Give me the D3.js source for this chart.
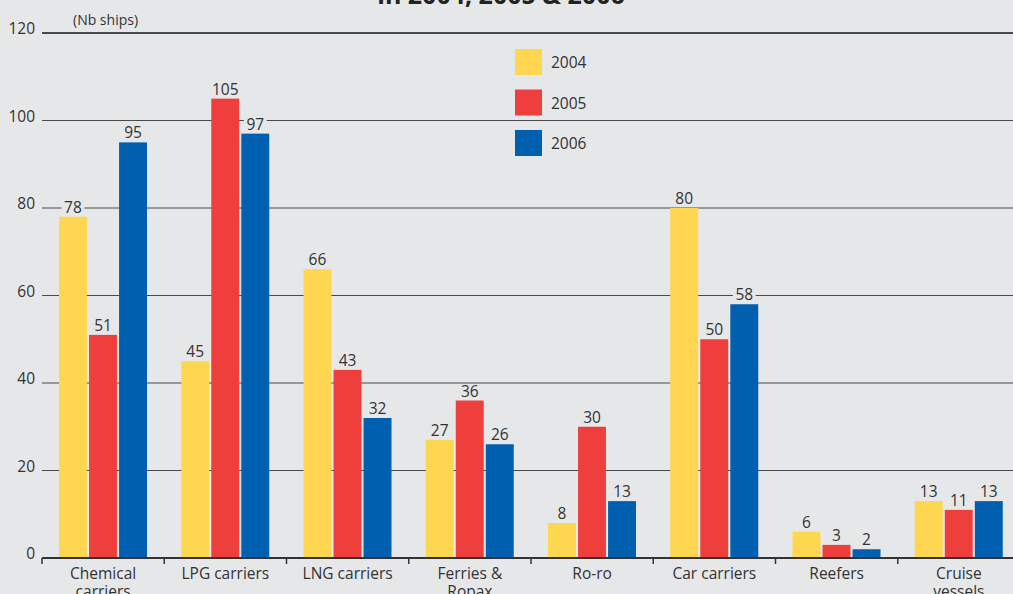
<!DOCTYPE html>
<html>
<head>
<meta charset="utf-8">
<script src="https://cdn.jsdelivr.net/npm/d3@7"></script>
<style>
  html, body { margin: 0; padding: 0; background: #e6e7e9; }
  svg { display: block; font-family: "Open Sans", "Noto Sans", sans-serif; }
</style>
</head>
<body>
<div id="svganchor"></div>
<script>
let width = 1013;
let height = 594;
let margin = ({top: 33, right: -7, bottom: 36, left: 42});

// Chart data
let categories = [["Chemical", "carriers"], ["LPG carriers"], ["LNG carriers"], ["Ferries &", "Ropax"],
                  ["Ro-ro"], ["Car carriers"], ["Reefers"], ["Cruise", "vessels"]];
let years = ["2004", "2005", "2006"];
let values2004 = [78, 45, 66, 27, 8, 80, 6, 13];
let values2005 = [51, 105, 43, 36, 30, 50, 3, 11];
let values2006 = [95, 97, 32, 26, 13, 58, 2, 13];
let yTicks = [0, 20, 40, 60, 80, 100, 120];

let series = [values2004, values2005, values2006];

// Colors per year
let colors = d3.scaleOrdinal()
    .domain(years)
    .range(["#fed64f", "#ef3f3d", "#005fae"]);

let svg = d3.select("#svganchor")
    .append("svg")
    .attr("width", width)
    .attr("height", height);

let xScale = d3.scaleBand()
    .domain(d3.range(categories.length))
    .range([margin.left, width - margin.right]);

let xInner = d3.scaleBand()
    .domain(years)
    .range([17, 105])
    .paddingInner(0.07);

let yScale = d3.scaleLinear()
    .domain([0, 120])
    .range([height - margin.bottom, margin.top]);

// Title (cut off at top)
svg.append("text")
    .attr("x", 501)
    .attr("y", 4)
    .attr("text-anchor", "middle")
    .attr("font-size", 25)
    .attr("font-weight", "bold")
    .attr("fill", "#222")
    .text("in 2004, 2005 & 2006");

// Gridlines
svg.append("g")
    .selectAll("line")
    .data(yTicks.filter(d => d > 0))
    .join("line")
    .attr("x1", margin.left)
    .attr("x2", width)
    .attr("y1", d => yScale(d))
    .attr("y2", d => yScale(d))
    .attr("stroke", "#4a4a4a")
    .attr("stroke-width", d => d === 120 ? 2 : 1.2);

// Y tick labels
svg.append("g")
    .selectAll("text")
    .data(yTicks)
    .join("text")
    .attr("x", 35)
    .attr("y", d => yScale(d) + 1)
    .attr("text-anchor", "end")
    .attr("font-size", 15.5)
    .attr("fill", "#333")
    .text(d => d);

svg.append("text")
    .attr("x", 73)
    .attr("y", 25)
    .attr("font-size", 14)
    .attr("fill", "#333")
    .text("(Nb ships)");

// Bars
let groups = svg.append("g")
    .selectAll("g")
    .data(years)
    .join("g")
    .attr("fill", d => colors(d));

groups.selectAll("rect")
    .data((y, i) => series[i].map((v, c) => ({year: y, cat: c, value: v})))
    .join("rect")
    .attr("x", d => xScale(d.cat) + xInner(d.year))
    .attr("y", d => yScale(d.value))
    .attr("width", xInner.bandwidth())
    .attr("height", d => yScale(0) - yScale(d.value));

// Value labels with background to break gridlines
let labels = svg.append("g")
    .selectAll("g")
    .data(years.flatMap((y, i) => series[i].map((v, c) => ({year: y, cat: c, value: v}))))
    .join("g")
    .attr("transform", d => "translate(" + (xScale(d.cat) + xInner(d.year) + xInner.bandwidth() / 2) + "," + (yScale(d.value) - 4) + ")");

labels.append("rect")
    .attr("x", d => -String(d.value).length * 4.7 - 2)
    .attr("y", -12)
    .attr("width", d => String(d.value).length * 9.4 + 4)
    .attr("height", 13)
    .attr("fill", "#e6e7e9");

labels.append("text")
    .attr("text-anchor", "middle")
    .attr("font-size", 15.5)
    .attr("fill", "#333")
    .text(d => d.value);

// X axis line and ticks
svg.append("line")
    .attr("x1", margin.left)
    .attr("x2", width)
    .attr("y1", yScale(0))
    .attr("y2", yScale(0))
    .attr("stroke", "#333")
    .attr("stroke-width", 2);

svg.append("g")
    .selectAll("line")
    .data(d3.range(categories.length))
    .join("line")
    .attr("x1", d => xScale(d))
    .attr("x2", d => xScale(d))
    .attr("y1", yScale(0))
    .attr("y2", yScale(0) + 6)
    .attr("stroke", "#333")
    .attr("stroke-width", 1.5);

// Category labels
let catText = svg.append("g")
    .selectAll("text")
    .data(categories)
    .join("text")
    .attr("x", (d, i) => xScale(i) + xScale.bandwidth() / 2)
    .attr("y", yScale(0) + 21)
    .attr("text-anchor", "middle")
    .attr("font-size", 15.5)
    .attr("fill", "#333");

catText.selectAll("tspan")
    .data(d => d)
    .join("tspan")
    .attr("x", function() { return d3.select(this.parentNode).attr("x"); })
    .attr("dy", (d, i) => i === 0 ? 0 : 18)
    .text(d => d);

// Legend
let legendY = d3.scaleLinear().domain([0, 2]).range([49, 130]);

let legend = svg.append("g")
    .selectAll("g")
    .data(years)
    .join("g")
    .attr("transform", (d, i) => "translate(515," + legendY(i) + ")");

legend.append("rect")
    .attr("width", 27)
    .attr("height", 26)
    .attr("fill", d => colors(d));

legend.append("text")
    .attr("x", 36)
    .attr("y", 19)
    .attr("font-size", 15.5)
    .attr("fill", "#333")
    .text(d => d);
</script>
</body>
</html>
